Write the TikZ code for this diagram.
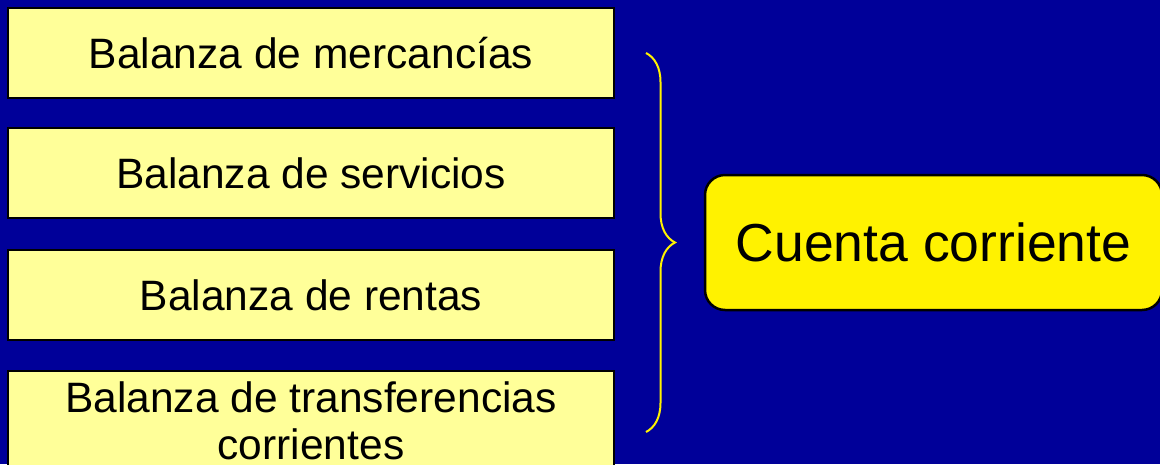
\documentclass[tikz,border=0pt]{standalone}
\usepackage{fontspec}
\setmainfont{Liberation Sans}
\usetikzlibrary{decorations.pathreplacing}
\definecolor{fondo}{HTML}{000099}
\definecolor{amarillo}{HTML}{FFFF99}
\newcommand{\llave}{yellow}

\tikzset{
  balanza/.style={draw=black, line width=2.5pt, fill=amarillo,
    minimum width=606pt, minimum height=90pt, inner sep=0pt,
    align=center, font=\fontsize{42.5}{47}\selectfont},
  cuenta/.style={draw=black, line width=2.5pt, fill=yellow,
    rounded corners=20pt, minimum width=457pt, minimum height=135pt,
    inner sep=0pt, font=\fontsize{53.5}{64}\selectfont}
}

\begin{document}
\begin{tikzpicture}[x=1pt,y=-1pt]

% background
\fill[fondo] (0,0) rectangle (1160,464);
\useasboundingbox (0,0) rectangle (1160,464);

% partial balances
\node[balanza] (bm)  at (311,53)  {Balanza de mercancías};
\node[balanza] (bs)  at (311,173) {Balanza de servicios};
\node[balanza] (br)  at (311,295) {Balanza de rentas};
\node[balanza, minimum height=100pt] (btc) at (311,421)
    {Balanza de transferencias\\corrientes};

% brace
\coordinate (llaveTop)    at (646,53);
\coordinate (llaveBottom) at (646,432);
\draw[draw=\llave, line width=2pt, decorate,
      decoration={brace, amplitude=29pt}]
     (llaveTop) -- (llaveBottom);

% current account
\node[cuenta] (cc) at (933.5,242.5) {Cuenta corriente};

\end{tikzpicture}
\end{document}
